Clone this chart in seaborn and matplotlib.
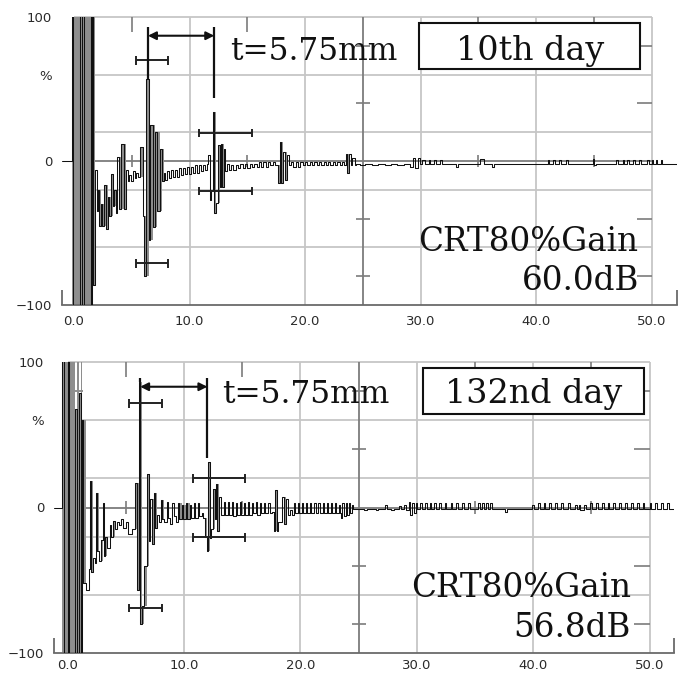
import numpy as np
import pandas as pd
import matplotlib
matplotlib.use("Agg")
import matplotlib.pyplot as plt
from matplotlib.patches import Rectangle
from matplotlib.ticker import FixedLocator, FixedFormatter, MultipleLocator
import seaborn as sns

# A-scan traces as step breakpoints: beam path (mm) and echo height (%)
day10_depth = [
    -1.04, -0.2, -0.1, 0.55, 0.7, 0.85, 1.45, 1.6,
    1.67, 1.85, 1.95, 2.1, 2.2, 2.35, 2.45, 2.6, 2.75, 2.9, 3.05, 3.2, 3.35, 3.5, 3.6,
    3.75, 3.9, 4.1, 4.3, 4.5, 4.65, 4.8, 4.95, 5.1, 5.25, 5.4, 5.55,
    5.75, 5.95, 6.1, 6.2, 6.45, 6.62, 6.85, 7.0, 7.2, 7.45, 7.6,
    7.75, 7.9, 8.05, 8.2, 8.4, 8.55, 8.75, 8.9, 9.1, 9.25, 9.45, 9.6, 9.8, 9.95,
    10.15, 10.3, 10.5, 10.65, 10.85, 11.0, 11.2, 11.35, 11.5,
    11.62, 11.75, 11.9, 12.05, 12.15, 12.3, 12.45, 12.6, 12.72, 12.85, 12.95, 13.1, 13.25,
    13.4, 13.6, 13.8, 14.0, 14.2, 14.4, 14.6, 14.8, 15.0, 15.2, 15.4, 15.6, 15.8, 16.0,
    16.2, 16.4, 16.6, 16.8, 17.0, 17.2, 17.4,
    17.65, 17.8, 17.95, 18.1, 18.3, 18.45, 18.6,
    18.8, 19.0, 19.2, 19.4, 19.6, 19.8, 20.0, 20.2, 20.4, 20.6, 20.8, 21.0, 21.2, 21.4,
    21.6, 21.8, 22.0, 22.2, 22.4, 22.6, 22.8, 23.0, 23.2, 23.4,
    23.55, 23.65, 23.8, 23.95, 24.1, 24.3, 24.45,
    24.8, 25.2, 25.8, 26.3, 26.9, 27.4, 28.0, 28.6, 29.1, 29.35, 29.55, 29.75, 29.95,
    30.15, 30.35, 30.7, 30.85, 31.2, 31.35, 31.7, 31.85, 33.1, 33.25, 35.15, 35.5, 36.2, 36.35,
    41.0, 41.15, 41.5, 41.65, 42.0, 42.15, 42.6, 42.75, 44.9, 45.05, 45.2, 46.9, 47.05,
    47.5, 47.6, 47.9, 48.05, 48.4, 48.55, 48.9, 49.05, 49.6, 49.75, 50.0, 50.1, 50.4, 50.5,
    50.8, 50.9, 52.2,
]
day10_amp = [
    0, 110, -110, 110, -110, 110, -110, 110,
    -86, -6, -35, -20, -45, -30, -45, -17, -47, -25, -38, -9, -31, -20, -36,
    3, -33, 12, -33, -6, -14, -10, -14, -7, -12, -8, -11,
    10, -38, -80, 57, -55, 25, -46, 20, -35, 8, -14,
    -8, -13, -7, -12, -6, -11, -6, -11, -5, -10, -5, -9, -4, -9,
    -4, -8, -3, -8, -3, -7, -3, -6, -2,
    4, -27, -20, 34, -36, -29, 11, -18, 12, -18, 8, -7, -2,
    -6, -3, -6, -3, -5, -2, -5, -2, -5, -2, -4, -2, -4, -1,
    -4, -1, -4, -1, -3, -1, -3,
    -15, 13, -15, 6, -13, 4, -3,
    -1, -4, -1, -4, -1, -3, -1, -3, -1, -3, -1, -3, -1, -3,
    -1, -3, -1, -3, -1, -3, -1, -3, -1, -3,
    5, -8, 5, -3, 2, -3, -2,
    -3, -2, -3, -2, -3, -2, -3, -2, -4, 2, -5, 2, -2,
    1, -2, 1, -2, 1, -2, 1, -2, -4, -2, 1.5, -2, -4, -2,
    1, -2, 1, -2, 1, -2, 1, -2, 1.5, -3, -2, 1, -2,
    1, -2, 1, -2, 1, -2, 1, -2, 1, -2, 1, -2, 1, -2,
    1, -2, -2,
]

day132_depth = [
    -1.17, -0.5, -0.3, 0.0, 0.15, 0.65, 0.8, 1.0, 1.15, 1.25,
    1.35, 1.6, 1.85, 1.93, 2.05, 2.2, 2.35, 2.44, 2.55, 2.7, 2.85, 3.0, 3.1,
    3.25, 3.4, 3.6, 3.75, 3.9, 4.05, 4.2, 4.4, 4.6, 4.8, 5.0, 5.2, 5.5,
    5.8, 5.95, 6.1, 6.2, 6.35, 6.55, 6.8, 6.95, 7.1, 7.25, 7.4, 7.55, 7.7,
    7.85, 8.0, 8.1, 8.3, 8.5, 8.6, 8.8, 9.0, 9.1, 9.3, 9.45, 9.55, 9.8, 9.9,
    10.15, 10.25, 10.5, 10.6, 10.85, 10.95, 11.2, 11.3, 11.55,
    11.65, 11.8, 11.95, 12.05, 12.2, 12.35, 12.5, 12.65, 12.72, 12.85, 13.0, 13.15,
    13.4, 13.5, 13.75, 13.85, 14.1, 14.2, 14.45, 14.55, 14.8, 14.9, 15.15, 15.25,
    15.5, 15.6, 15.85, 15.95, 16.2, 16.3, 16.55, 16.65, 16.9, 17.0, 17.25, 17.35, 17.6,
    17.75, 17.85, 17.97, 18.1, 18.45, 18.6, 18.8, 18.95, 19.1,
    19.3, 19.45, 19.55, 19.8, 19.9, 20.15, 20.25, 20.5, 20.6, 20.85, 20.95, 21.2, 21.3,
    21.55, 21.65, 21.9, 22.0, 22.25, 22.35, 22.6, 22.7, 22.95, 23.05, 23.3, 23.4,
    23.5, 23.6, 23.75, 23.9, 24.0, 24.15, 24.25, 24.4, 24.55,
    25.5, 25.7, 26.5, 26.7, 27.3, 27.45, 27.8, 28.0, 28.5, 28.65, 28.9, 29.05,
    29.3, 29.45, 29.6, 29.75, 29.9, 30.05,
    30.3, 30.45, 30.7, 30.85, 31.1, 31.25, 31.5, 31.65, 31.9, 32.05,
    32.4, 32.55, 32.9, 33.05, 33.4, 33.55, 33.9, 34.05, 34.4, 34.55,
    35.3, 35.45, 35.6, 35.75, 35.95, 36.1, 36.3, 36.45, 37.6, 37.75,
    39.9, 40.05, 40.4, 40.55, 40.9, 41.05, 41.4, 41.55, 41.9, 42.05, 42.4, 42.55, 43.0, 43.15,
    43.6, 43.75, 43.9, 44.05, 44.4, 44.55,
    44.9, 45.05, 45.4, 45.55, 45.9, 46.05, 46.4, 46.55, 46.9, 47.05, 47.4, 47.55, 47.9, 48.05,
    48.4, 48.55, 48.9, 49.05, 49.4, 49.55, 50.0, 50.15, 50.5, 50.65, 51.0, 51.15, 51.5, 51.65,
    52.1,
]
day132_amp = [
    0, 110, -110, 110, -110, 68, -110, 79, -110, 60,
    -52, -57, -42, 18, -44, -35, -38, 10, -30, -37, -22, 3, -33,
    -20, -28, -12, -20, -9, -15, -10, -12, -8, -14, -10, -18, -15,
    17, -57, 86, -80, -68, -40, 23, -23, 6, -25, 10, -14, -5,
    -10, 5, -8, -10, 4, -7, -11, 3, -6, -10, 3, -8, 2, -8,
    3, -8, 2, -7, 3, -7, 3, -6, -4,
    -7, -20, -30, 31, -21, -15, 13, -8, 16, -16, 7, -5,
    4, -5, 4, -5, 4, -6, 3, -5, 4, -5, 3, -5,
    4, -5, 3, -4, 4, -5, 3, -4, 3, -4, 3, -4, -3,
    -16, 12, -16, -10, 7, -11, 6, -5, -2,
    -5, 3, -4, 3, -4, 3, -4, 3, -4, 3, -4, 3, -4,
    3, -4, 3, -4, 3, -4, 3, -4, 3, -4, 2, -4,
    -7, 3, -6, 3, -5, 3, -4, 2, -1,
    -2, -1, -2, -1, 2, -1, -2, -1, 1, -1, 2, -2,
    4, -5, 3, -4, 3, -1,
    3, -1, 3, -1, 3, -1, 3, -1, 3, -1,
    3, -1, 3, -1, 3, -1, 3, -1, 3, -1,
    3, -1, 3, -1, 3, -1, 3, -1, -3, -1,
    2, -1, 3, -1, 3, -1, 3, -1, 3, -1, 3, -1, 3, -1,
    2, -1, 2, -2, 2, -1,
    3, -1, 3, -1, 3, -1, 3, -1, 3, -1, 3, -1, 3, -1,
    3, -1, 3, -1, 3, -1, 3, -1, 3, -1, 3, -1, 3, -1,
    -1,
]

panel_labels = ["10th day", "132nd day"]
gain_labels = ["60.0dB", "56.8dB"]
crt_label = "CRT80%Gain"
thickness_label = "t=5.75mm"

# back-wall echo markers: depth (mm) and where each marker meets its echo (%)
marker_depth = [[6.4, 12.14], [6.23, 12.01]]
marker_tip = [[57, 44], [86, 34]]
marker_top = [93, 89]
arrow_level = [87, 83]

# evaluation gates
gate_start = [[5.36, 10.8], [5.3, 10.8]]
gate_end = [[8.13, 15.4], [8.1, 15.25]]
gate_upper = [[70, 19.4], [71.5, 20]]
gate_lower = [[-71, -20.8], [-69, -20.6]]

x_major = [0, 5, 10, 15, 20, 25, 30, 35, 40, 45, 50]
x_labels = ["0.0", "", "10.0", "", "20.0", "", "30.0", "", "40.0", "", "50.0"]
y_ticks = [100, 60, 0, -100]
y_labels = ["100", "%", "0", "\u2212100"]

traces = [(day10_depth, day10_amp), (day132_depth, day132_amp)]
axes_rects = [[62 / 688, 1 - 305 / 674, 615 / 688, 288 / 674],
              [54 / 688, 1 - 653 / 674, 620 / 688, 291 / 674]]
x_limits = [(-1.04, 52.2), (-1.17, 52.1)]
x_label_pad = [7, 4]

# text placement per panel
thick_pos = [(13.5, 70.1), (13.3, 71.5)]
day_pos = [(39.5, 70.0), (40.0, 72.0)]
day_box = [(29.9, 63.9, 19.1, 31.9), (30.5, 64.6, 19.0, 31.6)]
crt_pos = [(48.8, -62.3), (48.4, -61.6)]
gain_pos = [(48.9, -89.6), (48.4, -88.7)]

sns.set_style("white")
plt.rcParams["font.family"] = ["DejaVu Sans"]

LIGHT = "#c6c6c6"
DARK = "#7c7c7c"
AXIS = "#6a6a6a"
INK = "#111111"
FILL = "#8e8e8e"
SERIF = ["DejaVu Serif"]

fig = plt.figure(figsize=(6.88, 6.74), dpi=100)

for i, (dep, amp) in enumerate(traces):
    dep = np.asarray(dep, float)
    amp = np.asarray(amp, float)
    if len(dep) != len(amp):
        raise ValueError(f"trace {i}: {len(dep)} depths vs {len(amp)} amplitudes")
    ax = fig.add_axes(axes_rects[i])
    ax.set_xlim(*x_limits[i])
    ax.set_ylim(-100, 100)

    # screen graticule
    ax.vlines([0, 10, 20, 30, 40, 50], -100, 100, colors=LIGHT, lw=1.3, zorder=1, clip_on=False)
    ax.hlines([100, 60, 20, -20, -60], 0, 50, colors=LIGHT, lw=1.3, zorder=1, clip_on=False)
    ax.vlines(25, -100, 100, colors=DARK, lw=1.3, zorder=1)
    ax.hlines(0, 0, 50, colors=DARK, lw=1.3, zorder=1)
    minor_y = [-80, -40, 40, 80]
    ax.hlines(minor_y, 0, 1.3, colors=DARK, lw=1.2, zorder=1)
    ax.hlines(minor_y, 48.7, 50, colors=DARK, lw=1.2, zorder=1)
    ax.hlines(minor_y, 24.4, 25.6, colors=DARK, lw=1.2, zorder=1)
    minor_x = [5, 15, 35, 45]
    ax.vlines(minor_x, 89.6, 100, colors=DARK, lw=1.2, zorder=1)
    ax.vlines(minor_x, -4.5, 4.5, colors=DARK, lw=1.2, zorder=1)
    ax.vlines(list(x_limits[i]), -100, -89.6, colors=AXIS, lw=1.3, zorder=1, clip_on=False)

    # shaded envelope inside the ringing bursts: each column spans the
    # swing from the previous level to the current one
    prev = np.concatenate([[amp[0]], amp[:-1]])
    lo = np.minimum(prev, amp)
    hi = np.maximum(prev, amp)
    sat = np.abs(amp) >= 100
    lo = np.where(sat, -110, lo)
    hi = np.where(sat, 110, hi)
    burst = ((np.abs(amp) >= 8) & (hi - lo >= 10))[:-1]
    ax.bar(dep[:-1][burst], (hi - lo)[:-1][burst], bottom=lo[:-1][burst],
           width=np.diff(dep)[burst], align="edge", color=FILL, linewidth=0, zorder=2)

    df = pd.DataFrame({"depth": dep, "amp": amp})
    sns.lineplot(data=df, x="depth", y="amp", drawstyle="steps-post", estimator=None,
                 sort=False, color=INK, lw=0.75, ax=ax, zorder=3)
    ax.set_xlabel("")
    ax.set_ylabel("")

    # gates
    for gs, ge, gu, gl in zip(gate_start[i], gate_end[i], gate_upper[i], gate_lower[i]):
        for lvl in (gu, gl):
            ax.hlines(lvl, gs, ge, colors="#222222", lw=1.4, zorder=4)
            ax.vlines([gs, ge], lvl - 3, lvl + 3, colors="#222222", lw=1.4, zorder=4)

    # thickness markers and dimension arrow
    for md, mt in zip(marker_depth[i], marker_tip[i]):
        ax.vlines(md, mt, marker_top[i], colors=INK, lw=1.6, zorder=4)
    ax.annotate("", xy=(marker_depth[i][1], arrow_level[i]),
                xytext=(marker_depth[i][0], arrow_level[i]),
                arrowprops=dict(arrowstyle="<|-|>", color=INK, lw=1.5,
                                shrinkA=0, shrinkB=0, mutation_scale=12), zorder=5)
    ax.text(*thick_pos[i], thickness_label, family=SERIF, fontsize=22.5,
            ha="left", va="baseline", color=INK, zorder=5)

    bx, by, bw, bh = day_box[i]
    ax.add_patch(Rectangle((bx, by), bw, bh, facecolor="white", edgecolor=INK,
                           lw=1.5, zorder=5))
    ax.text(*day_pos[i], panel_labels[i], family=SERIF, fontsize=24,
            ha="center", va="baseline", color=INK, zorder=6)
    ax.text(*crt_pos[i], crt_label, family=SERIF, fontsize=23.5,
            ha="right", va="baseline", color=INK, zorder=5)
    ax.text(*gain_pos[i], gain_labels[i], family=SERIF, fontsize=23.5,
            ha="right", va="baseline", color=INK, zorder=5)

    # axes styling
    for side in ("left", "top", "right"):
        ax.spines[side].set_visible(False)
    ax.spines["bottom"].set_color(AXIS)
    ax.spines["bottom"].set_linewidth(1.3)
    ax.xaxis.set_major_locator(FixedLocator(x_major))
    ax.xaxis.set_major_formatter(FixedFormatter(x_labels))
    ax.xaxis.set_minor_locator(MultipleLocator(1))
    ax.tick_params(axis="x", which="major", direction="in", length=8.6, width=1.2,
                   color=AXIS, pad=x_label_pad[i], labelsize=9.5, labelcolor="#2a2a2a")
    ax.tick_params(axis="x", which="minor", direction="in", length=3.6, width=1.0,
                   color=AXIS)
    ax.set_yticks(y_ticks)
    ax.set_yticklabels(y_labels)
    ax.tick_params(axis="y", length=0, pad=7, labelsize=9.5, labelcolor="#2a2a2a")
    ax.set_facecolor("white")

fig.savefig("out.png", dpi=100, facecolor="white")
